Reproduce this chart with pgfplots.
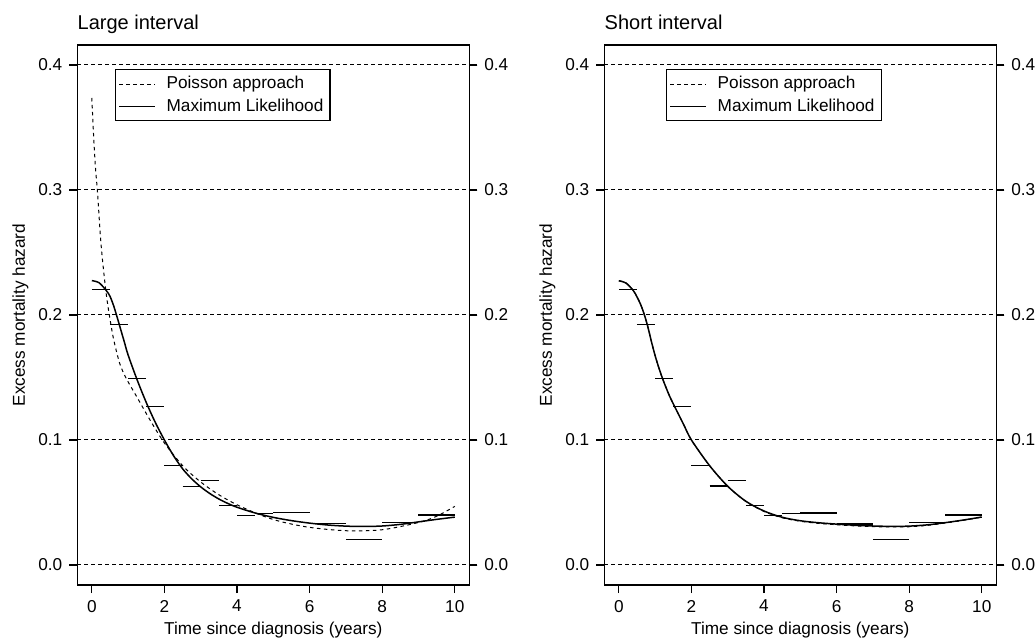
\documentclass[border=0pt]{standalone}
\usepackage{pgfplots}
\pgfplotsset{compat=1.18}
\usepackage{fontspec}
\setmainfont{Liberation Sans}
\newcommand{\tfont}{\fontsize{8.6bp}{10bp}\selectfont}

\pgfplotsset{
  myaxis/.style={
    scale only axis, width=196bp, height=270bp,
    xmin=-0.4, xmax=10.4, ymin=-0.016, ymax=0.416,
    xtick={0,2,4,6,8,10}, ytick={0,0.1,0.2,0.3,0.4},
    xtick pos=left, ytick pos=both,
    tick align=outside, major tick length=4bp,
    axis line style={line width=0.6bp},
    every tick/.style={black, line width=0.6bp},
    tick label style={font=\tfont},
    label style={font=\tfont},
    /pgf/number format/assume math mode=true,
    yticklabel style={/pgf/number format/.cd, fixed, fixed zerofill, precision=1},
    ymajorgrids,
    major grid style={black, line width=0.5bp, dash pattern=on 1.75bp off 1.75bp},
    xlabel={Time since diagnosis (years)},
    ylabel={Excess mortality hazard},
    xlabel style={at={(axis description cs:0.5,0)}, anchor=base, yshift=-24.5bp, inner sep=0pt},
    ylabel style={at={(axis description cs:-0.145,0.5)}, anchor=center},
    legend image code/.code={\draw[#1] (0bp,0bp) -- (18bp,0bp);},
    legend style={draw=black, line width=0.6bp, fill=white, anchor=north west,
      inner xsep=1.5bp, inner ysep=1.4bp, font=\tfont, column sep=3.5bp,
      row sep=0pt, nodes={inner sep=1.8bp}},
    legend cell align=left,
  },
  rightlabels/.style={
    scale only axis, width=196bp, height=270bp,
    xmin=-0.4, xmax=10.4, ymin=-0.016, ymax=0.416,
    ytick={0,0.1,0.2,0.3,0.4},
    hide x axis, axis y line*=right,
    tick align=outside, major tick length=4bp,
    axis line style={line width=0.6bp},
    every tick/.style={black, line width=0.6bp},
    tick label style={font=\tfont},
    /pgf/number format/assume math mode=true,
    yticklabel style={/pgf/number format/.cd, fixed, fixed zerofill, precision=1},
  },
  paneltitle/.style={extra description/.code={
    \node[anchor=base west, inner sep=0pt, font=\fontsize{10bp}{12bp}\selectfont]
      at (0,1) [yshift=7.5bp] {#1};}},
  seg/.style={black, line width=0.6bp, unbounded coords=jump, forget plot},
  ml/.style={black, line width=0.75bp, smooth},
  pois/.style={black, line width=0.5bp, dash pattern=on 1.75bp off 1.75bp, smooth},
}

\begin{document}
\begin{tikzpicture}
\useasboundingbox (0,0) rectangle (518bp,319bp);

% ---------------- Left panel ----------------
\begin{axis}[myaxis, at={(38.65bp,26.5bp)}, anchor=south west,
  paneltitle={Large interval},
  legend style={at={(rel axis cs:0.096,0.955)}}]
\addplot[pois] coordinates {
(0,0.3736) (0.05,0.343) (0.1,0.318) (0.157,0.298) (0.25,0.258) (0.36,0.226)
(0.45,0.206) (0.59,0.182) (0.75,0.163) (0.86,0.1545) (1.0,0.1465) (1.23,0.135)
(1.6,0.1162) (2.0,0.0976) (2.52,0.0789) (3.0,0.0664) (3.5,0.0562) (4.0,0.0482)
(4.63,0.0402) (5.18,0.0349) (6.0,0.0301) (7.02,0.0274) (8.0,0.0282) (9.0,0.0340)
(9.5,0.039) (10,0.0469)};
\addlegendentry{Poisson approach}
\addplot[ml] coordinates {
(0,0.2275) (0.2,0.2258) (0.4,0.2195) (0.5,0.215) (0.6,0.2075) (0.7,0.198)
(0.8,0.188) (0.9,0.178) (1.0,0.168) (1.25,0.148) (1.5,0.130) (1.75,0.114)
(2.0,0.100) (2.25,0.0875) (2.5,0.077) (2.75,0.069) (3.0,0.0625) (3.25,0.0572)
(3.5,0.0528) (3.75,0.0492) (4.0,0.0462) (4.5,0.0416) (5,0.0381) (5.5,0.0355)
(6,0.0335) (6.5,0.032) (7,0.0311) (7.5,0.0308) (8,0.0312) (8.5,0.0325)
(9,0.0345) (9.5,0.0365) (10,0.0383)};
\addlegendentry{Maximum Likelihood}
\addplot[seg] coordinates {
(0,0.2202) (0.5,0.2202) (0.5,nan)
(0.5,0.1925) (1,0.1925) (1,nan)
(1,0.149) (1.5,0.149) (1.5,nan)
(1.5,0.1266) (2,0.1266) (2,nan)
(2,0.0797) (2.5,0.0797) (2.5,nan)
(2.5,0.0630) (3,0.0630) (3,nan)
(3,0.0674) (3.5,0.0674) (3.5,nan)
(3.5,0.0477) (4,0.0477) (4,nan)
(4,0.0397) (4.5,0.0397) (4.5,nan)
(4.5,0.0412) (5,0.0412) (5,nan)
(5,0.0417) (6,0.0417) (6,nan)
(6,0.0330) (7,0.0330) (7,nan)
(7,0.0205) (8,0.0205) (8,nan)
(8,0.0343) (9,0.0343) (9,nan)
(9,0.0400) (10,0.0400)};
\end{axis}
\begin{axis}[rightlabels, at={(38.65bp,26.5bp)}, anchor=south west]
\end{axis}

% ---------------- Right panel ----------------
\begin{axis}[myaxis, at={(302.15bp,26.5bp)}, anchor=south west,
  paneltitle={Short interval},
  legend style={at={(rel axis cs:0.1575,0.955)}}]
\addplot[pois] coordinates {
(0,0.2274) (0.2,0.2255) (0.4,0.2195) (0.5,0.2145) (0.6,0.2085) (0.7,0.2005)
(0.8,0.1905) (0.9,0.1785) (1.0,0.1675) (1.1,0.158) (1.2,0.1495) (1.3,0.142)
(1.4,0.135) (1.5,0.129) (1.6,0.1232) (1.8,0.1115) (2.0,0.100) (2.5,0.0795)
(3.0,0.0630) (3.5,0.0508) (4.0,0.0428) (4.5,0.0378) (5.0,0.0350) (5.5,0.0333)
(6,0.0322) (6.5,0.0313) (7,0.0307) (7.5,0.0304) (8,0.0306) (8.5,0.0317)
(9,0.0336) (9.5,0.0358) (10,0.0383)};
\addlegendentry{Poisson approach}
\addplot[ml] coordinates {
(0,0.2274) (0.2,0.2255) (0.4,0.2195) (0.5,0.2145) (0.6,0.2085) (0.7,0.2005)
(0.8,0.1905) (0.9,0.1785) (1.0,0.1675) (1.1,0.158) (1.2,0.1495) (1.3,0.142)
(1.4,0.135) (1.5,0.129) (1.6,0.1232) (1.8,0.1115) (2.0,0.100) (2.5,0.0795)
(3.0,0.0630) (3.5,0.0510) (4.0,0.0432) (4.5,0.0382) (5.0,0.0354) (5.5,0.0338)
(6,0.0327) (6.5,0.0318) (7,0.0312) (7.5,0.0309) (8,0.0311) (8.5,0.0321)
(9,0.0339) (9.5,0.036) (10,0.0384)};
\addlegendentry{Maximum Likelihood}
\addplot[seg] coordinates {
(0,0.2202) (0.5,0.2202) (0.5,nan)
(0.5,0.1925) (1,0.1925) (1,nan)
(1,0.149) (1.5,0.149) (1.5,nan)
(1.5,0.1266) (2,0.1266) (2,nan)
(2,0.0797) (2.5,0.0797) (2.5,nan)
(2.5,0.0632) (3,0.0632) (3,nan)
(3,0.0674) (3.5,0.0674) (3.5,nan)
(3.5,0.0477) (4,0.0477) (4,nan)
(4,0.0397) (4.5,0.0397) (4.5,nan)
(4.5,0.0412) (5,0.0412) (5,nan)
(5,0.0416) (6,0.0416) (6,nan)
(6,0.0328) (7,0.0328) (7,nan)
(7,0.0205) (8,0.0205) (8,nan)
(8,0.0341) (9,0.0341) (9,nan)
(9,0.0400) (10,0.0400)};
\end{axis}
\begin{axis}[rightlabels, at={(302.15bp,26.5bp)}, anchor=south west]
\end{axis}
\end{tikzpicture}
\end{document}
